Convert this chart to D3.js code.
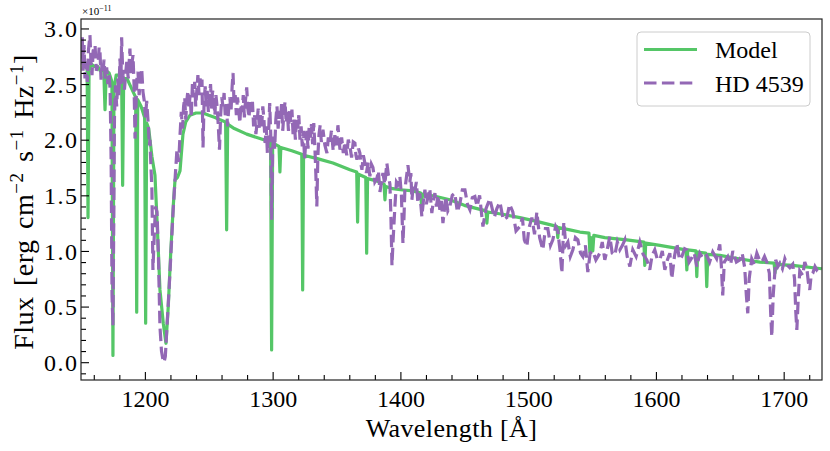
<!DOCTYPE html>
<html><head><meta charset="utf-8">
<script src="https://cdn.jsdelivr.net/npm/d3@7"></script>
<style>
html,body{margin:0;padding:0;background:#fff;}
text{font-family:"Liberation Serif","DejaVu Serif",serif;fill:#000;}
</style></head>
<body><svg id="chart" width="830" height="451"></svg>
<script>
const xTicks = [1200,1300,1400,1500,1600,1700];
const yTicks = [0.0,0.5,1.0,1.5,2.0,2.5,3.0];
const seriesNames = ["Model","HD 4539"];

const modelWave = [1150.0,1153,1154.8,1155.5,1156.3,1158,1160,1163,1165,1167.8,1168.8,1169.8,1172,1174.2,1175.0,1175.8,1177.5,1180,1181.8,1182.6,1183.4,1186,1188,1190,1192.8,1193.6,1194.4,1197,1199.8,1200.6,1201.4,1203,1205.5,1207.9,1209.8,1211.8,1214.4,1216.5,1218.3,1220.2,1222.2,1223.6,1225.5,1227.5,1229.8,1232,1235.3,1240,1245.5,1250,1254.9,1258.8,1263.2,1264.0,1264.8,1270,1279.7,1290.1,1298.4,1299.2,1300.0,1305.0,1305.7,1306.4,1315,1322.8,1323.5,1324.2,1335,1347.2,1360.5,1365.8,1366.5,1367.2,1372.9,1373.6,1374.3,1381.4,1387.2,1387.9,1388.6,1394.1,1400,1410,1415.9,1416.6,1417.3,1428,1438.7,1450,1467.0,1467.7,1468.4,1480,1493.5,1505,1519.3,1522.5,1523.2,1523.9,1532.6,1540.5,1547.6,1548.3,1549.2,1550.6,1551.4,1560,1577.2,1590.6,1591.3,1592.0,1603.1,1623.5,1624.2,1624.9,1631.3,1632.0,1632.7,1639.0,1639.8,1640.6,1650,1665,1681.3,1692.5,1693.2,1693.9,1707.1,1729.8];
const modelFlux = [2.78,2.70,2.64,1.30,2.62,2.68,2.66,2.66,2.62,2.63,2.27,2.62,2.60,2.52,0.06,2.45,2.58,2.58,2.56,1.59,2.55,2.55,2.50,2.45,2.38,0.45,2.36,2.30,2.20,0.35,2.15,2.10,1.85,1.68,1.20,0.65,0.35,0.17,0.50,0.98,1.40,1.64,1.66,1.72,2.05,2.16,2.22,2.24,2.24,2.22,2.20,2.18,2.16,1.19,2.14,2.10,2.05,2.01,1.98,0.11,1.97,1.94,1.71,1.93,1.90,1.87,0.65,1.86,1.83,1.79,1.73,1.71,1.26,1.69,1.66,0.98,1.65,1.63,1.60,1.46,1.58,1.56,1.55,1.54,1.52,1.40,1.51,1.49,1.46,1.41,1.36,1.25,1.35,1.33,1.30,1.27,1.23,1.22,1.12,1.21,1.19,1.17,1.16,0.99,1.12,1.00,1.14,1.12,1.10,1.08,0.87,1.07,1.05,1.01,0.83,1.01,1.00,0.77,0.99,0.98,0.68,0.97,0.96,0.93,0.90,0.89,0.80,0.88,0.87,0.84];

const starWave = [1150.0,1151.0,1151.6,1152.4,1153.1,1153.9,1155.0,1155.8,1157.0,1157.8,1158.6,1159.5,1161.0,1162.0,1163.3,1164.2,1164.9,1165.7,1166.4,1167.2,1168.0,1169.0,1170.1,1171.0,1171.9,1172.8,1173.6,1174.3,1175.0,1175.6,1176.2,1177.0,1177.9,1178.8,1179.6,1180.5,1181.2,1181.8,1182.4,1182.9,1184.0,1185.0,1185.8,1187.0,1188.3,1189.0,1189.7,1190.7,1191.5,1192.3,1193.0,1193.8,1194.6,1195.5,1196.5,1197.5,1198.5,1199.5,1200.5,1201.4,1202.7,1203.5,1204.0,1204.7,1205.5,1206.3,1207.2,1208.3,1209.5,1210.6,1211.8,1213.0,1214.2,1215.0,1216.0,1217.2,1218.9,1220.5,1222.0,1223.6,1225.1,1226.5,
1227.5,1228.5,1229.5,1230.3,1231.2,1232.0,1232.8,1233.7,1234.5,1235.4,1236.3,1237.2,1238.0,1239.0,1239.8,1240.7,1241.5,1242.4,1243.2,1244.0,1244.7,1245.5,1246.3,1247.2,1248.0,1248.8,1249.7,1250.5,1251.4,1252.2,1253.0,1254.0,1254.8,1255.6,1256.5,1257.4,1258.4,1259.3,1260.2,1261.1,1262.0,1262.9,1263.8,1264.7,1265.6,1266.5,1267.4,1268.3,1269.0,1269.8,1270.7,1271.6,1272.5,1273.4,1274.3,1275.2,1276.1,1277.0,1277.9,1278.8,1279.7,1280.6,1281.5,1282.4,1283.3,1284.2,1285.1,1286.0,1286.9,1287.8,1288.7,1289.6,1290.5,1291.4,1292.3,1293.2,1294.1,1295.0,1295.9,1296.8,1297.7,1298.5,1299.2,1300.0,1300.8,1301.6,1302.5,1303.4,1304.3,1305.2,1306.1,1307.0,1307.9,1308.8,1309.7,1310.6,1311.5,1312.4,1313.3,1314.2,1315.1,1316.0,1316.9,1317.8,1318.7,1319.6,1320.5,1321.4,1322.3,1323.2,1324.1,1325.0,1325.9,1326.8,1327.7,1328.6,1329.5,1330.4,1331.3,1332.2,1333.1,1333.8,1334.6,1335.4,1336.3,1337.2,1338.1,
1339.4,1340.9,1342.5,1343.6,1344.8,1346.0,1347.4,1348.7,1350.0,1351.1,1352.7,1354.0,1355.3,1356.6,1358.0,1359.2,1360.5,1361.8,1363.1,1364.4,1365.2,1366.0,1367.2,1368.3,1369.1,1369.9,1371.0,1372.2,1373.4,1374.8,1376.1,1377.3,1378.5,1380.0,1381.6,1382.8,1384.0,1385.2,1386.3,1387.8,1389.4,1390.6,1391.8,1392.6,1393.4,1394.3,1395.7,1396.9,1398.0,1399.6,1400.8,1402.0,1402.8,1403.5,1404.7,1405.9,1407.4,1408.2,1409.0,1410.2,1411.4,1412.5,1413.7,1415.2,1416.8,1418.0,1419.2,1420.3,1421.5,1423.0,1424.6,1425.8,1427.0,1428.2,1429.5,1430.9,1432.1,1433.3,1434.5,1435.6,1437.1,1438.7,1440.6,1442.6,1444.6,1446.6,1448.5,1450.5,1452.5,1454.4,1456.3,1458.3,1460.0,
1462.0,1464.6,1467.0,1470.0,1473.5,1475.5,1477.9,1480.5,1483.3,1485.5,1488.0,1490.5,1493.5,1495.5,1497.0,1499.0,1500.5,1502.9,1505.0,1506.8,1509.0,1511.5,1513.5,1515.4,1517.5,1519.3,1521.5,1523.2,1525.0,1526.4,1527.9,1529.5,1531.1,1533.0,1535.0,1537.0,1538.9,1541.0,1542.8,1544.8,1546.7,1548.5,1550.6,1553.0,1556.1,1558.0,1560.0,1562.0,1563.9,1565.8,1567.8,1569.8,1571.8,1573.8,1575.7,1577.5,1579.6,1581.9,1584.5,1587.4,1590.0,1592.9,1595.2,1597.0,1599.1,1601.0,1603.1,1605.0,1607.0,1609.0,1610.9,1612.4,1614.5,1616.4,1618.5,1620.3,1622.5,1624.2,1626.0,1628.1,1630.0,1632.0,1634.4,1637.0,1639.8,1642.0,1644.5,1647.5,1650.0,1651.3,1652.3,1653.5,1656.3,1658.5,1660.2,1663.0,1665.6,1667.5,1669.5,1670.8,1671.9,1673.0,1675.0,1677.0,1679.0,1681.0,1682.9,1685.0,1686.8,1688.8,1689.8,1690.7,1691.8,1693.8,1695.5,1697.0,1699.0,1700.9,1703.0,1704.8,1707.1,1708.5,1709.5,1710.3,1711.3,1712.6,1714.9,1716.5,1718.1,1719.3,1720.4,1721.5,1722.8,1724.5,1725.9,1728.0,1729.8];
const starFlux = [2.73,2.92,2.62,2.85,2.55,2.70,2.52,2.80,2.94,2.70,2.58,2.80,2.85,2.62,2.67,2.83,2.78,2.54,2.68,2.60,2.72,2.55,2.65,2.50,2.60,2.45,1.80,0.60,0.33,1.20,2.20,2.49,2.30,2.55,2.40,2.73,2.50,2.92,2.70,2.58,2.45,2.60,2.70,2.55,2.82,2.60,2.67,2.76,2.50,2.01,2.30,2.55,2.61,2.40,2.55,2.64,2.43,2.35,2.20,2.35,2.13,1.95,2.00,1.77,1.55,0.83,1.10,1.40,1.35,0.95,0.32,0.10,0.02,0.00,0.05,0.30,0.65,1.00,1.34,1.64,1.91,1.80,
2.04,2.25,2.10,2.30,2.38,2.18,2.35,2.44,2.28,2.40,2.20,2.50,2.38,2.52,2.30,2.45,2.58,2.40,2.55,2.48,2.54,1.93,2.32,2.48,2.30,2.44,2.25,2.38,2.50,2.28,2.44,2.35,2.22,2.40,2.30,2.14,1.91,2.22,2.38,2.30,2.42,2.22,2.32,2.12,2.28,2.38,2.25,2.48,2.60,2.32,2.40,2.22,2.38,2.28,2.15,2.32,2.25,2.40,2.20,2.36,2.47,2.28,2.20,2.36,2.25,2.34,2.12,2.22,2.05,2.15,2.28,2.10,2.22,2.12,2.30,2.18,1.97,2.12,1.88,2.05,2.33,2.05,1.28,1.90,2.05,1.92,2.18,2.30,2.10,2.26,2.18,2.32,2.08,2.24,2.34,2.15,2.25,2.08,2.28,2.16,2.27,2.05,2.18,2.00,2.20,2.10,2.22,2.00,2.12,1.94,2.08,1.82,1.98,2.08,1.92,2.12,2.02,2.14,1.96,2.15,1.92,1.70,1.40,1.85,2.05,2.13,1.98,
2.09,1.95,1.88,2.02,1.96,2.08,1.90,2.04,1.95,2.13,1.91,2.02,1.88,1.98,1.86,2.00,1.94,1.84,1.98,1.97,1.86,1.82,1.92,1.88,1.78,1.73,1.86,1.79,1.70,1.80,1.67,1.78,1.75,1.62,1.65,1.72,1.53,1.62,1.70,1.60,1.79,1.68,1.60,1.30,0.87,1.10,1.40,1.62,1.60,1.67,1.50,1.07,1.30,1.55,1.66,1.77,1.62,1.70,1.46,1.60,1.55,1.62,1.43,1.52,1.31,1.45,1.55,1.42,1.48,1.56,1.34,1.45,1.52,1.40,1.50,1.37,1.45,1.25,1.38,1.49,1.36,1.40,1.50,1.52,1.35,1.43,1.55,1.55,1.42,1.37,1.48,1.49,1.40,
1.50,1.22,1.38,1.47,1.30,1.38,1.44,1.28,1.30,1.42,1.35,1.18,1.22,1.30,1.10,1.04,1.20,1.30,1.15,1.35,1.12,1.01,1.20,1.20,1.05,1.10,1.22,1.18,1.00,0.80,1.26,1.05,1.08,0.95,1.01,1.12,1.10,0.98,0.95,1.05,0.81,0.98,1.00,0.92,0.98,1.08,0.92,1.02,1.13,0.98,0.96,1.08,1.01,1.05,1.10,0.95,0.86,1.01,0.95,1.08,0.97,0.92,0.83,0.96,1.01,0.93,0.92,1.00,0.83,0.92,0.98,0.75,0.95,1.07,0.92,0.95,1.02,1.01,0.90,0.94,0.98,0.86,0.98,0.93,0.96,0.90,0.99,0.93,1.06,0.85,0.60,0.90,0.95,0.88,1.00,0.90,0.92,0.98,0.85,0.60,0.44,0.75,0.93,0.88,0.98,0.92,0.90,0.95,0.90,0.80,0.45,0.23,0.60,0.92,0.86,0.89,0.84,0.93,0.87,0.85,0.88,0.75,0.45,0.29,0.55,0.82,0.78,0.90,0.85,0.72,0.65,0.78,0.80,0.86,0.83,0.86,0.85];

const m = {left:81, right:822, top:19, bottom:380};
const svg = d3.select("#chart");
const x = d3.scaleLinear().domain([1150,1730]).range([m.left,m.right]);
const y = d3.scaleLinear().domain([-0.16,3.085]).range([m.bottom,m.top]);

svg.append("defs").append("clipPath").attr("id","clip").append("rect")
  .attr("x",m.left).attr("y",m.top).attr("width",m.right-m.left).attr("height",m.bottom-m.top);

const line = d3.line().x(d=>x(d[0])).y(d=>y(d[1]));
const modelData = modelWave.map((w,i)=>[w,modelFlux[i]]);
const starData = starWave.map((w,i)=>[w,starFlux[i]]);
const green = "#55c667", purple = "#9368b5";

const g = svg.append("g").attr("clip-path","url(#clip)");
g.append("path").datum(modelData).attr("d",line).attr("fill","none")
  .attr("stroke",green).attr("stroke-width",3.2).attr("stroke-linejoin","round");
g.append("path").datum(starData).attr("d",line).attr("fill","none")
  .attr("stroke",purple).attr("stroke-width",3.2).attr("stroke-dasharray","12.5,5.4");

const xMinor = d3.range(1160,1730,20).filter(v=>v%100!==0);
const yMinor = d3.range(-0.1,3.05,0.1).map(v=>+v.toFixed(1)).filter(v=>Math.abs(v*2-Math.round(v*2))>1e-6);

const xAxis = svg.append("g").attr("transform",`translate(0,${m.bottom})`)
  .call(d3.axisBottom(x).tickValues(xTicks).tickSize(-8).tickPadding(14).tickFormat(d3.format("d")));
const xAxisMinor = svg.append("g").attr("transform",`translate(0,${m.bottom})`)
  .call(d3.axisBottom(x).tickValues(xMinor).tickSize(-5).tickFormat(""));
const yAxis = svg.append("g").attr("transform",`translate(${m.left},0)`)
  .call(d3.axisLeft(y).tickValues(yTicks).tickSize(-8).tickPadding(14).tickFormat(d3.format(".1f")));
const yAxisMinor = svg.append("g").attr("transform",`translate(${m.left},0)`)
  .call(d3.axisLeft(y).tickValues(yMinor).tickSize(-5).tickFormat(""));
[xAxis,xAxisMinor,yAxis,yAxisMinor].forEach(a=>{
  a.select(".domain").remove();
  a.selectAll("line").attr("stroke","#000").attr("stroke-width",1.1);
  a.selectAll("text").style("font-family","'Liberation Serif',serif").style("font-size","24px").attr("fill","#000");
});
xAxis.selectAll("text").attr("dy","0.71em").attr("y",10);
yAxis.selectAll("text").attr("x",-4).attr("dy","0.34em").attr("textLength",33).attr("lengthAdjust","spacing");

svg.append("rect").attr("x",m.left).attr("y",m.top).attr("width",m.right-m.left).attr("height",m.bottom-m.top)
  .attr("fill","none").attr("stroke","#222").attr("stroke-width",1.2);

const off = svg.append("text").attr("x",m.left+1).attr("y",15).style("font-size","11px");
off.append("tspan").text("×10");
off.append("tspan").attr("dy",-4).style("font-size","8px").text("−11");

svg.append("text").attr("x",(m.left+m.right)/2).attr("y",437).attr("text-anchor","middle")
  .style("font-size","26px").style("letter-spacing","0.4px").text("Wavelength [Å]");

const yl = svg.append("text").attr("transform","translate(33,202) rotate(-90)").attr("text-anchor","middle")
  .style("font-size","28px").style("letter-spacing","0.5px").style("word-spacing","3px");
yl.append("tspan").text("Flux [erg cm");
yl.append("tspan").attr("dy",-10).style("font-size","19px").text("−2");
yl.append("tspan").attr("dy",10).text(" s");
yl.append("tspan").attr("dy",-10).style("font-size","19px").text("−1");
yl.append("tspan").attr("dy",10).text(" Hz");
yl.append("tspan").attr("dy",-10).style("font-size","19px").text("−1");
yl.append("tspan").attr("dy",10).text("]");

const lg = svg.append("g");
lg.append("rect").attr("x",637).attr("y",32).attr("width",173).attr("height",74).attr("rx",4)
  .attr("fill","#fff").attr("fill-opacity",0.8).attr("stroke","#ccc").attr("stroke-width",1);
const entries = [{name:seriesNames[0],color:green,dash:null,y:49.5},{name:seriesNames[1],color:purple,dash:"12.5,5.4",y:83}];
entries.forEach(e=>{
  lg.append("line").attr("x1",644).attr("x2",697).attr("y1",e.y).attr("y2",e.y)
    .attr("stroke",e.color).attr("stroke-width",3.2).attr("stroke-dasharray",e.dash);
  lg.append("text").attr("x",715).attr("y",e.y+8.5).style("font-size","24px").text(e.name);
});
</script></body></html>
